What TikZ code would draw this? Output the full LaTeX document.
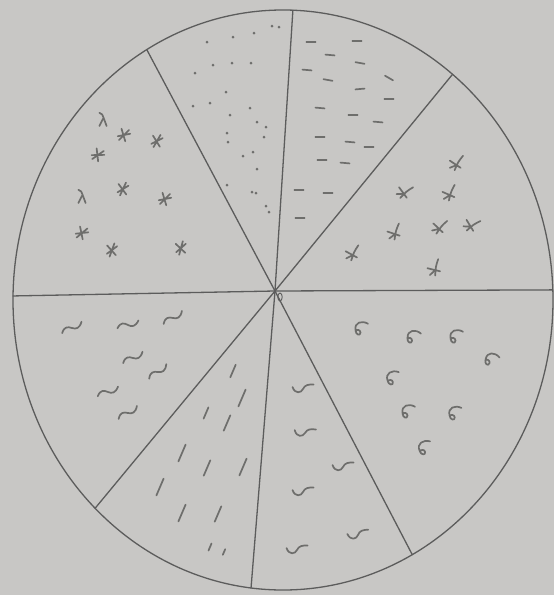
\documentclass[tikz,border=0pt]{standalone}

\definecolor{paper}{RGB}{200,199,197}
\definecolor{pencil}{RGB}{92,92,92}
\definecolor{lead}{RGB}{110,110,108}

\tikzset{
  outline/.style={draw=pencil, line width=1.3pt},
  inkmark/.style={draw=lead, line width=1.7pt, line cap=round, line join=round},
  starpic/.pic={\draw[inkmark] (-5,1) -- (5,-1) (-2,-5) -- (1,5) (-4,4) -- (4,-4);},
  lambdapic/.pic={\draw[inkmark] (-3,-6) .. controls (-1,-6) .. (3,5) (0,-1) -- (-3,5);},
  birdpic/.pic={\draw[inkmark] (-6,-2) -- (3,4) (5,-6) .. controls (1,-1) .. (-2,6) (-1,2) -- (-6,4);},
  tildepic/.pic={\draw[inkmark] (-9,2) .. controls (-6,-3) and (-3,-2) .. (0,0) .. controls (3,2) and (6,2) .. (9,-3);},
  curlpic/.pic={\draw[inkmark] (8,-5) .. controls (3,-8) and (-3,-6) .. (-2,0) .. controls (-2,4) and (2,5) .. (2,2) .. controls (2,0) and (-1,-1) .. (-2,1);},
  wavepic/.pic={\draw[inkmark] (-8,-3) .. controls (-7,3) and (-2,3) .. (0,0) .. controls (2,-3) and (5,-3) .. (9,-2);},
  slashpic/.pic={\draw[inkmark] (-3,7) -- (3,-7);},
  dashpic/.pic={\draw[inkmark] (-4,0) -- (4,0);},
  dotpic/.pic={\fill[lead] (0,0) circle (1.5pt);},
}

\begin{document}
\begin{tikzpicture}[x=1pt, y=-1pt, line cap=round]
    % Parameters
    \def\cx{283}
    \def\cy{300}
    \def\rx{270}
    \def\ry{290}

    % Paper
    \fill[paper] (0,0) rectangle (554,595);
    \useasboundingbox (0,0) rectangle (554,595);

    % Circle and spokes
    \coordinate (hub) at (275,291);
    \draw[outline] (\cx,\cy) ellipse [x radius=\rx pt, y radius=\ry pt];
    \foreach \t [count=\i] in {272.1, 308.9, 358, 61.4, 96.8, 134.1, 180.8, 239.7} {
      \coordinate (rim\i) at ({\cx+\rx*cos(\t)}, {\cy+\ry*sin(\t)});
      \draw[outline] (hub) -- (rim\i);
    }
    \draw[outline, line width=0.9pt] (280,297) ellipse [x radius=2.2pt, y radius=4pt];

    % Sector: stars (upper left)
    \foreach \x/\y/\r in {124/135/0, 157/141/15, 98/155/-10, 123/189/20, 165/199/0,
                          82/233/-5, 112/250/25, 181/248/30}
      \pic[rotate=\r, scale=1.25] at (\x,\y) {starpic};
    \foreach \x/\y in {103/120, 82/197}
      \pic[scale=1.2] at (\x,\y) {lambdapic};

    % Sector: dots (top left)
    \foreach \x/\y in {272/26, 279/27, 254/33, 233/37, 207/42, 213/65, 232/63, 251/63,
                       195/73, 226/92, 210/103, 193/106, 250/108, 230/115, 257/122,
                       266/127, 227/133, 264/137, 228/142, 243/156, 253/152, 257/169,
                       227/185, 252/192, 256/193, 266/206, 269/212}
      \pic at (\x,\y) {dotpic};

    % Sector: dashes (top right)
    \foreach \x/\y/\r in {311/42/0, 357/41/0, 330/55/-5, 360/63/-10, 307/70/-5, 328/80/-10,
                          389/78/-30, 360/89/5, 389/99/0, 320/108/-5, 353/115/0, 378/122/-5,
                          320/137/0, 350/142/-5, 369/147/0, 322/160/0, 345/163/-5,
                          299/190/0, 328/193/0, 300/218/0}
      \pic[rotate=\r, scale=1.15] at (\x,\y) {dashpic};

    % Sector: crosses (right upper)
    \foreach \x/\y/\r in {457/163/0, 405/192/-20, 450/193/10, 395/232/15, 440/227/-10,
                          472/225/-25, 353/253/5, 435/268/20}
      \pic[rotate=\r, scale=1.2] at (\x,\y) {birdpic};

    % Sector: curls (right lower)
    \foreach \x/\y/\r in {358/330/0, 410/338/-10, 453/338/0, 488/360/-20, 390/380/10,
                          405/413/0, 452/415/5, 422/450/15}
      \pic[rotate=\r, scale=1.25] at (\x,\y) {curlpic};

    % Sector: waves (bottom)
    \foreach \x/\y/\r in {303/389/10, 305/433/5, 343/467/10, 303/492/10, 358/535/15, 297/550/10}
      \pic[rotate=\r, scale=1.25] at (\x,\y) {wavepic};

    % Sector: slashes (bottom left)
    \foreach \x/\y/\s in {233/371/0.9, 242/398/1.2, 206/413/0.8, 227/423/1.1, 182/453/1.2,
                          207/468/1.1, 243/467/1.2, 160/487/1.2, 182/513/1.2, 218/514/1.1,
                          210/547/0.5, 224/552/0.4}
      \pic[scale=\s] at (\x,\y) {slashpic};

    % Sector: tildes (left lower)
    \foreach \x/\y/\r in {72/328/15, 128/325/5, 173/318/20, 133/358/15, 158/372/25,
                          108/392/10, 128/413/20}
      \pic[rotate=\r, scale=1.2] at (\x,\y) {tildepic};
  \end{tikzpicture}
\end{document}
